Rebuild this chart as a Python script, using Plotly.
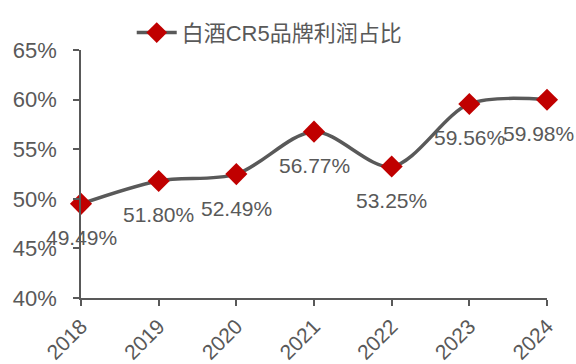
import plotly.graph_objects as go

years = ["2018", "2019", "2020", "2021", "2022", "2023", "2024"]
share = [49.49, 51.80, 52.49, 56.77, 53.25, 59.56, 59.98]
y_ticks = [40, 45, 50, 55, 60, 65]
series_name = "白酒CR5品牌利润占比"

GRAY = "#595959"
RED = "#C00000"
FONT = "Liberation Sans, Arial, Noto Sans CJK SC, sans-serif"

fig = go.Figure()
fig.add_trace(go.Scatter(
    x=years, y=share, name=series_name,
    mode="lines+markers",
    line=dict(color=GRAY, width=3.5, shape="spline", smoothing=0.9),
    marker=dict(symbol="diamond", size=17, color=RED),
    cliponaxis=False,
))

# value labels under each point; the last one is nudged inward to stay on the page
for i, v in enumerate(share):
    fig.add_annotation(x=i, y=v, xref="x", yref="y", text=f"{v:.2f}%",
                       showarrow=False, yshift=-34,
                       xshift=-9 if i == len(share) - 1 else 0,
                       font=dict(size=21, color=GRAY))

fig.update_layout(
    width=576, height=364,
    margin=dict(l=81, r=29, t=50, b=66, autoexpand=False),
    paper_bgcolor="white", plot_bgcolor="white",
    font=dict(family=FONT, color=GRAY),
    showlegend=True,
    legend=dict(orientation="h", x=0.405, y=0.91, xref="paper", yref="container",
                xanchor="center", yanchor="middle",
                font=dict(size=22, color=GRAY, family=FONT),
                itemwidth=40),
)
fig.update_xaxes(
    type="category", range=[0, 6], automargin=False,
    showline=True, linecolor=GRAY, linewidth=1.5,
    ticks="outside", ticklen=6, tickcolor=GRAY, tickwidth=1.5,
    tickangle=-45, tickfont=dict(size=21, color=GRAY, family=FONT),
    showgrid=False, zeroline=False,
)
fig.update_yaxes(
    range=[40, 65], tickvals=y_ticks, ticktext=[f"{t}%" for t in y_ticks],
    automargin=False,
    showline=True, linecolor=GRAY, linewidth=1.5,
    ticks="outside", ticklen=6, tickcolor=GRAY, tickwidth=1.5,
    ticklabelstandoff=12,
    tickfont=dict(size=22, color=GRAY, family=FONT),
    showgrid=False, zeroline=False,
)

fig.write_html("out.html")
